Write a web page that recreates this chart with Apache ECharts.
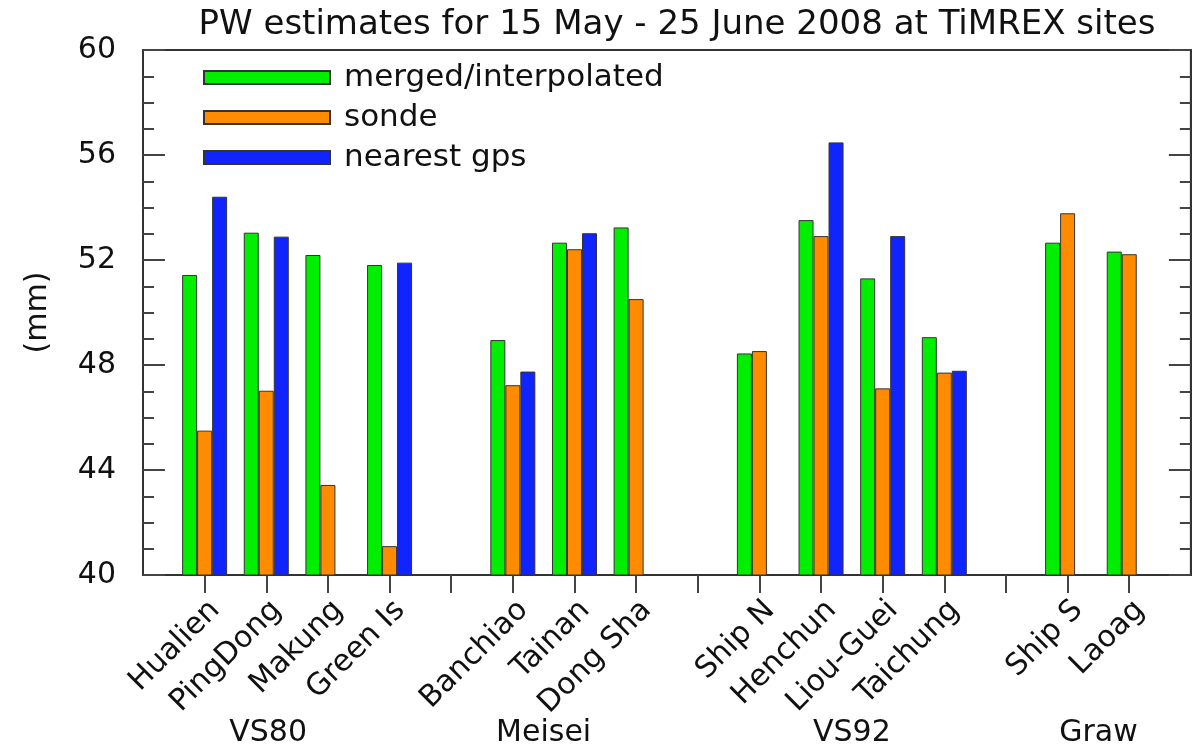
<!DOCTYPE html>
<html>
<head>
<meta charset="utf-8">
<title>PW estimates at TiMREX sites</title>
<script src="https://cdn.jsdelivr.net/npm/echarts@6/dist/echarts.min.js"></script>
<style>
  html, body { margin: 0; padding: 0; background: #ffffff; }
  #chart { width: 1193px; height: 749px; }
</style>
</head>
<body>
<div id="chart"></div>
<script>
// Sites along the x axis; null marks the empty slot between sonde types
const SITES = ['Hualien', 'PingDong', 'Makung', 'Green Is', null,
               'Banchiao', 'Tainan', 'Dong Sha', null,
               'Ship N', 'Henchun', 'Liou-Guei', 'Taichung', null,
               'Ship S', 'Laoag'];

// Precipitable water (mm), one value per site slot
const MERGED = [51.43, 53.04, 52.19, 51.81, null,
                48.95, 52.66, 53.24, null,
                48.44, 53.52, 51.30, 49.06, null,
                52.66, 52.32];
const SONDE  = [45.50, 47.02, 43.43, 41.10, null,
                47.23, 52.41, 50.51, null,
                48.53, 52.91, 47.11, 47.71, null,
                53.78, 52.22];
const GPS    = [54.41, 52.89, null, 51.90, null,
                47.75, 53.02, null, null,
                null, 56.48, 52.91, 47.78, null,
                null, null];

const SERIES_NAMES = ['merged/interpolated', 'sonde', 'nearest gps'];
const Y_TICKS = [40, 44, 48, 52, 56, 60];

// Sonde type labels, placed under the site names (site-index position)
const GROUPS = ['VS80', 'Meisei', 'VS92', 'Graw'];
const GROUP_POS = [1.03, 5.5, 10.5, 14.5];

const FONT = 'DejaVu Sans';
const COLORS = ['#00ee00', '#ff8c00', '#1024ff'];

// One empty slot on each side so the frame extends past the outer sites
const categories = ['_edgeL'].concat(SITES.map((s, i) => s === null ? '_gap' + i : s), ['_edgeR']);
const pad = arr => [null].concat(arr, [null]);

const chart = echarts.init(document.getElementById('chart'), null, { renderer: 'canvas' });

const yAxisBase = {
  type: 'value',
  min: Y_TICKS[0],
  max: Y_TICKS[Y_TICKS.length - 1],
  interval: Y_TICKS[1] - Y_TICKS[0],
  axisLine: { show: true, lineStyle: { color: '#333', width: 2 } },
  axisTick: { show: true, inside: true, length: 22, lineStyle: { color: '#444', width: 2 } },
  minorTick: { show: true, splitNumber: 4, length: 11, lineStyle: { color: '#444', width: 2 } },
  splitLine: { show: false },
  minorSplitLine: { show: false }
};

const option = {
  backgroundColor: '#ffffff',
  animation: false,
  title: {
    text: 'PW estimates for 15 May - 25 June 2008 at TiMREX sites',
    left: 672,
    textAlign: 'center',
    top: 3,
    textStyle: { fontFamily: FONT, fontSize: 34, fontWeight: 'normal', color: '#111' }
  },
  legend: {
    orient: 'vertical',
    left: 198,
    top: 57,
    icon: 'rect',
    itemWidth: 126,
    itemHeight: 13,
    itemGap: 9,
    data: SERIES_NAMES,
    textStyle: { fontFamily: FONT, fontSize: 31, color: '#111', lineHeight: 30, padding: [0, 0, 0, 9] }
  },
  grid: {
    left: 143, top: 50, width: 1048, height: 525,
    show: true, borderColor: '#333', borderWidth: 2, backgroundColor: 'transparent'
  },
  xAxis: {
    type: 'category',
    data: categories,
    boundaryGap: false,
    axisLine: { show: true, lineStyle: { color: '#333', width: 2 } },
    axisTick: {
      show: true, length: 18, alignWithLabel: true,
      interval: (i) => i > 0 && i < categories.length - 1,
      lineStyle: { color: '#444', width: 2 }
    },
    axisLabel: {
      interval: 0,
      rotate: 45,
      margin: 20,
      verticalAlign: 'top',
      fontFamily: FONT, fontSize: 30, color: '#111',
      formatter: (v) => v.charAt(0) === '_' ? '' : v
    },
    splitLine: { show: false }
  },
  yAxis: [
    Object.assign({}, yAxisBase, {
      position: 'left',
      name: '(mm)',
      nameLocation: 'middle',
      nameRotate: 90,
      nameGap: 90,
      nameTextStyle: { fontFamily: FONT, fontSize: 30, color: '#111' },
      axisLabel: { show: true, margin: 27, fontFamily: FONT, fontSize: 30, color: '#111' }
    }),
    Object.assign({}, yAxisBase, {
      position: 'right',
      axisLabel: { show: false }
    })
  ],
  series: [MERGED, SONDE, GPS].map((vals, k) => ({
    name: SERIES_NAMES[k],
    type: 'bar',
    yAxisIndex: 0,
    data: pad(vals),
    barWidth: 15,
    barGap: '0%',
    clip: true,
    itemStyle: { color: COLORS[k], borderColor: '#333', borderWidth: 1 }
  }))
};

chart.setOption(option);

// Pixel x for a fractional site index, interpolated between category ticks
function siteX(pos) {
  const c = pos + 1;               // shift past the left edge slot
  const a = Math.floor(c);
  const p0 = chart.convertToPixel({ xAxisIndex: 0 }, a);
  const p1 = chart.convertToPixel({ xAxisIndex: 0 }, a + 1);
  return p0 + (c - a) * (p1 - p0);
}

// Sonde-type captions beneath the rotated site names
chart.setOption({
  graphic: GROUPS.map((g, i) => ({
    type: 'text',
    x: siteX(GROUP_POS[i]),
    y: 733,
    style: {
      text: g, fontFamily: FONT, fontSize: 30, fill: '#111',
      align: 'center', verticalAlign: 'middle'
    }
  }))
});
</script>
</body>
</html>
